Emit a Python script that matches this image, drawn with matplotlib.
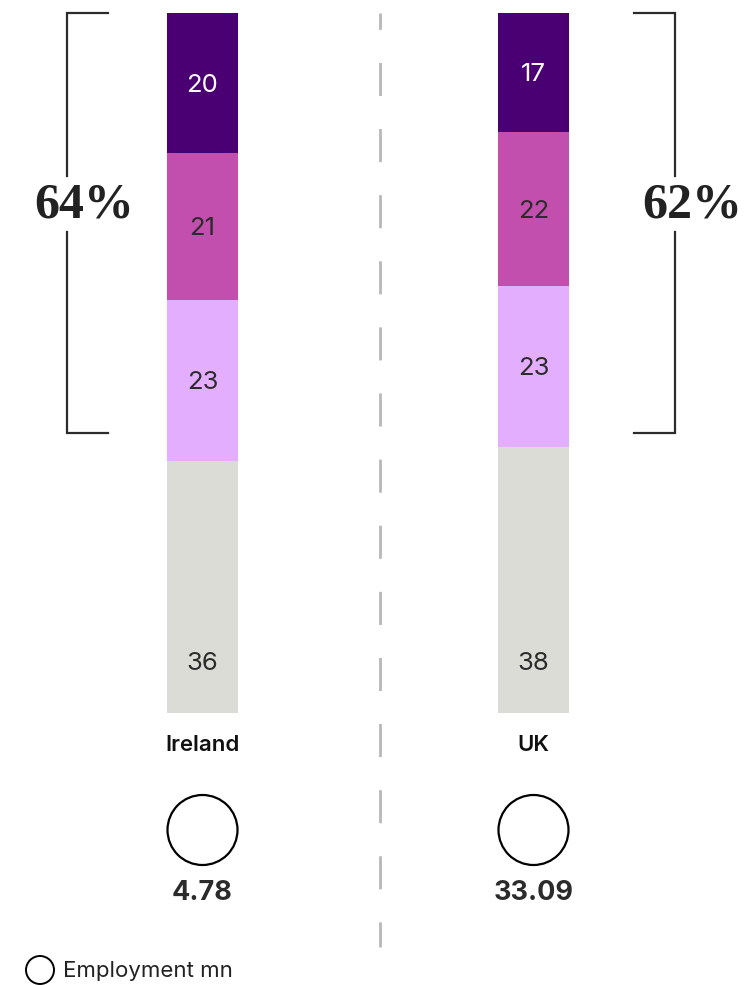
import matplotlib
matplotlib.use("Agg")
import matplotlib.pyplot as plt
import numpy as np
from matplotlib.patches import Circle

plt.rcParams["font.family"] = ["Inter", "DejaVu Sans"]

# data
countries = ["Ireland", "UK"]
# stacked shares, top to bottom
ireland = [20, 21, 23, 36]
uk = [17, 22, 23, 38]
bracket_share = ["64%", "62%"]
employment = ["4.78", "33.09"]
seg_colors = ["#4a0072", "#c24fae", "#e4aeff", "#dcdcd6"]
text_colors = ["white", "#2b2b2b", "#2b2b2b", "#2b2b2b"]

W, H = 745, 985
fig = plt.figure(figsize=(W / 100, H / 100), dpi=100)
ax = fig.add_axes([0, 0, 1, 1])
ax.set_xlim(0, W)
ax.set_ylim(H, 0)
ax.axis("off")

top, px_per = 13, 7.0
xs = [202.5, 533.5]
bw = 71

for xc, vals in zip(xs, [ireland, uk]):
    vals = np.array(vals)
    bottoms = top + np.concatenate([[0], np.cumsum(vals)[:-1]]) * px_per
    ax.bar([xc] * len(vals), vals * px_per, bottom=bottoms, width=bw,
           color=seg_colors, align="center")
    for i, (v, b) in enumerate(zip(vals, bottoms)):
        if i == len(vals) - 1:
            y = b + v * px_per - 52
        else:
            y = b + v * px_per / 2
        ax.text(xc, y + 2, str(v), ha="center", va="center", fontsize=18.5,
                color=text_colors[i])

# divider
ax.plot([380, 380], [13, 947], color="#b8b8b8", lw=2, ls=(6.0, (11.9, 11.9)))

# brackets
bk_color = "#2b2b2b"
y0, y1 = 13, 433
for xv, xt, lab in [(67, 108, bracket_share[0]), (675, 634, bracket_share[1])]:
    ax.plot([xt, xv, xv], [y0, y0, 176], color=bk_color, lw=1.6, solid_joinstyle="miter")
    ax.plot([xv, xv, xt], [232, y1, y1], color=bk_color, lw=1.6, solid_joinstyle="miter")
    ax.text(xv + 17, 205, lab, ha="center", va="center", fontsize=36,
            fontweight="bold", family=["Liberation Serif"], color="#222222")

# country labels, circles and employment
for xc, name, emp in zip(xs, countries, employment):
    ax.text(xc, 745, name, ha="center", va="center", fontsize=16,
            fontweight="semibold", color="#111111")
    ax.add_patch(Circle((xc, 830), 35, fill=False, ec="black", lw=1.6))
    ax.text(xc, 893, emp, ha="center", va="center", fontsize=19.5,
            fontweight="bold", color="#2b2b2b")

# legend
ax.add_patch(Circle((40, 970), 14, fill=False, ec="black", lw=1.4))
ax.text(63, 971, "Employment mn", ha="left", va="center", fontsize=16,
        color="#222222")

fig.savefig("out.png", dpi=100)
